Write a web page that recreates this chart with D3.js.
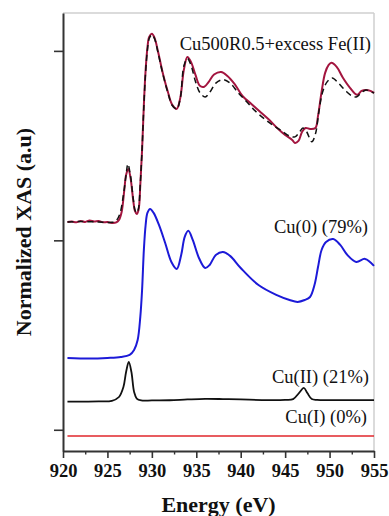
<!DOCTYPE html>
<html>
<head>
<meta charset="utf-8">
<script src="https://cdn.jsdelivr.net/npm/d3@7"></script>
<style>
  html, body { margin: 0; padding: 0; background: #fff; }
  svg { display: block; }
</style>
</head>
<body>
<svg id="chart" width="389" height="516"></svg>
<script>
// ---------- data ----------
const xTickValues = [920, 925, 930, 935, 940, 945, 950, 955];
const xMinorTicks = [922.5, 927.5, 932.5, 937.5, 942.5, 947.5, 952.5];
const yTickValues = [0, 1, 2];

// Cu(I) (0%) reference, flat
const cu1Energy = [920.5, 955];
const cu1Value  = [-0.033, -0.033];

// Cu(II) (21%) reference
const cu2Energy = [920.5, 922, 924, 925.5, 926.3, 926.8, 927.1, 927.4, 927.7, 928.0, 928.3, 928.8, 930, 932, 934, 936, 938, 940, 943, 945, 945.9, 946.6, 947.1, 947.5, 948.0, 948.6, 950, 955];
const cu2Value  = [0.149, 0.149, 0.150, 0.153, 0.173, 0.226, 0.305, 0.358, 0.305, 0.200, 0.165, 0.155, 0.155, 0.156, 0.160, 0.163, 0.162, 0.160, 0.157, 0.158, 0.162, 0.196, 0.221, 0.194, 0.162, 0.158, 0.157, 0.157];

// Cu(0) (79%) reference
const cu0Energy = [920.5, 923, 925, 926.5, 927.5, 928.0, 928.4, 928.7, 928.9, 929.1, 929.3, 929.5, 929.8, 930.2, 930.8, 931.5, 932.2, 932.8, 933.3, 933.7, 934.1, 934.6, 935.3, 936.0, 936.5, 937.2, 938.0, 938.8, 940, 942, 944, 945.5, 946.4, 947.2, 947.8, 948.3, 948.7, 949.1, 949.6, 950.4, 951.2, 952, 953, 954, 955];
const cu0Value  = [0.379, 0.376, 0.379, 0.384, 0.395, 0.421, 0.474, 0.596, 0.738, 0.949, 1.081, 1.145, 1.166, 1.145, 1.081, 0.986, 0.886, 0.849, 0.923, 1.018, 1.050, 1.002, 0.907, 0.854, 0.870, 0.923, 0.939, 0.918, 0.854, 0.764, 0.712, 0.685, 0.675, 0.685, 0.701, 0.764, 0.859, 0.949, 0.991, 1.007, 0.976, 0.923, 0.886, 0.902, 0.865];

// Measured: Cu500R0.5+excess Fe(II)
const measEnergy = [920.5, 921, 921.5, 922, 922.5, 923, 923.5, 924, 924.5, 925, 925.5, 926.0, 926.3, 926.6, 926.9, 927.1, 927.35, 927.6, 927.9, 928.1, 928.3, 928.5, 928.7, 928.9, 929.1, 929.3, 929.5, 929.7, 930.0, 930.3, 930.7, 931.2, 931.8, 932.3, 932.8, 933.2, 933.6, 934.0, 934.4, 934.9, 935.4, 935.9, 936.4, 937.0, 937.8, 938.5, 939.3, 940.2, 941.2, 942.2, 943.2, 944.1, 945.0, 945.8, 946.1, 946.5, 946.9, 947.3, 947.8, 948.4, 948.7, 949.1, 949.5, 949.9, 950.2, 950.8, 951.5, 952.3, 953.1, 953.6, 954.1, 954.6, 955.0];
const measValue  = [1.097, 1.099, 1.095, 1.102, 1.097, 1.105, 1.099, 1.102, 1.095, 1.097, 1.092, 1.095, 1.108, 1.150, 1.266, 1.345, 1.377, 1.330, 1.213, 1.155, 1.139, 1.160, 1.292, 1.477, 1.715, 1.900, 2.016, 2.074, 2.090, 2.069, 1.995, 1.889, 1.784, 1.715, 1.694, 1.752, 1.900, 1.968, 1.942, 1.875, 1.816, 1.811, 1.837, 1.875, 1.889, 1.868, 1.826, 1.762, 1.720, 1.678, 1.636, 1.593, 1.556, 1.530, 1.514, 1.525, 1.572, 1.593, 1.588, 1.593, 1.657, 1.784, 1.884, 1.926, 1.937, 1.916, 1.858, 1.805, 1.768, 1.789, 1.794, 1.789, 1.778];

// Linear-combination fit (dashed)
const fitEnergy = [920.5, 922, 924, 925.5, 926.0, 926.4, 926.8, 927.1, 927.3, 927.6, 927.9, 928.1, 928.3, 928.5, 928.7, 928.9, 929.1, 929.3, 929.5, 929.7, 930.0, 930.3, 930.7, 931.2, 931.8, 932.3, 932.8, 933.2, 933.6, 934.0, 934.4, 934.9, 935.4, 936.0, 936.5, 937.2, 938.0, 938.8, 939.7, 940.7, 941.7, 942.7, 943.7, 944.7, 945.5, 946.1, 946.6, 947.0, 947.4, 948.0, 948.4, 948.8, 949.2, 949.7, 950.3, 951.0, 951.8, 952.5, 953.0, 953.6, 954.1, 954.6, 955.0];
const fitValue  = [1.097, 1.099, 1.097, 1.095, 1.105, 1.140, 1.240, 1.345, 1.403, 1.340, 1.220, 1.160, 1.145, 1.170, 1.300, 1.480, 1.710, 1.890, 2.005, 2.065, 2.085, 2.065, 1.990, 1.885, 1.780, 1.712, 1.694, 1.750, 1.920, 1.960, 1.925, 1.840, 1.780, 1.757, 1.780, 1.830, 1.848, 1.830, 1.780, 1.730, 1.680, 1.640, 1.605, 1.575, 1.550, 1.546, 1.570, 1.593, 1.575, 1.520, 1.560, 1.680, 1.780, 1.835, 1.857, 1.830, 1.790, 1.763, 1.757, 1.780, 1.794, 1.785, 1.778];

const labelMeas = "Cu500R0.5+excess Fe(II)";
const labelCu0 = "Cu(0) (79%)";
const labelCu2 = "Cu(II) (21%)";
const labelCu1 = "Cu(I) (0%)";
const xTitle = "Energy (eV)";
const yTitle = "Normalized XAS (a.u)";

// ---------- layout ----------
const svg = d3.select("#chart");
const mLeft = 63, mRight = 374, mTop = 13, mBottom = 451;

const x = d3.scaleLinear().domain([920, 955]).range([mLeft, mRight]);
const y = d3.scaleLinear().domain([-0.112, 2.2]).range([mBottom, mTop]);

svg.append("rect").attr("width", 389).attr("height", 516).attr("fill", "#fff");

// top & right frame (light gray)
svg.append("line").attr("x1", mLeft).attr("x2", mRight).attr("y1", mTop).attr("y2", mTop)
  .attr("stroke", "#cfcfcf").attr("stroke-width", 1.5);
svg.append("line").attr("x1", mRight).attr("x2", mRight).attr("y1", mTop).attr("y2", mBottom)
  .attr("stroke", "#cfcfcf").attr("stroke-width", 1.5);

const serif = "'Liberation Serif', 'Times New Roman', serif";

// x axis
const xAxis = d3.axisBottom(x).tickValues(xTickValues).tickSize(7).tickSizeOuter(0).tickPadding(6);
const gx = svg.append("g").attr("transform", `translate(0,${mBottom})`).call(xAxis);
gx.select(".domain").attr("stroke", "#333").attr("stroke-width", 2);
gx.selectAll(".tick line").attr("stroke", "#333").attr("stroke-width", 1.6);
gx.selectAll(".tick text").attr("font-family", serif).attr("font-weight", "bold")
  .attr("font-size", 18.5).attr("fill", "#111");
const gxm = svg.append("g").attr("transform", `translate(0,${mBottom})`)
  .call(d3.axisBottom(x).tickValues(xMinorTicks).tickSize(3.5).tickFormat(""));
gxm.select(".domain").remove();
gxm.selectAll(".tick line").attr("stroke", "#333").attr("stroke-width", 1.4);

// y axis
const yAxis = d3.axisLeft(y).tickValues(yTickValues).tickSize(9).tickSizeOuter(0).tickFormat("");
const gy = svg.append("g").attr("transform", `translate(${mLeft},0)`).call(yAxis);
gy.select(".domain").attr("stroke", "#333").attr("stroke-width", 2);
gy.selectAll(".tick line").attr("stroke", "#333").attr("stroke-width", 1.6);

// axis titles
svg.append("text").attr("x", (mLeft + mRight) / 2).attr("y", 512)
  .attr("text-anchor", "middle").attr("font-family", serif).attr("font-weight", "bold")
  .attr("font-size", 22).attr("fill", "#111").text(xTitle);
svg.append("text").attr("transform", `translate(31,${232}) rotate(-90)`)
  .attr("text-anchor", "middle").attr("font-family", serif).attr("font-weight", "bold")
  .attr("font-size", 22).attr("fill", "#111").text(yTitle);

// curves
const line = d3.line().x(d => x(d[0])).y(d => y(d[1])).curve(d3.curveCatmullRom.alpha(0.5));
const zipData = (e, v) => e.map((d, i) => [d, v[i]]);

const plot = svg.append("g");
plot.append("path").datum(zipData(cu1Energy, cu1Value)).attr("d", line)
  .attr("fill", "none").attr("stroke", "#e0262b").attr("stroke-width", 1.6);
plot.append("path").datum(zipData(cu2Energy, cu2Value)).attr("d", line)
  .attr("fill", "none").attr("stroke", "#111").attr("stroke-width", 1.8);
plot.append("path").datum(zipData(cu0Energy, cu0Value)).attr("d", line)
  .attr("fill", "none").attr("stroke", "#1c1ad8").attr("stroke-width", 2);
plot.append("path").datum(zipData(measEnergy, measValue)).attr("d", line)
  .attr("fill", "none").attr("stroke", "#a3153f").attr("stroke-width", 2);
plot.append("path").datum(zipData(fitEnergy, fitValue)).attr("d", line)
  .attr("fill", "none").attr("stroke", "#111").attr("stroke-width", 1.5)
  .attr("stroke-dasharray", "6,4");

// curve labels
const labels = [
  { t: labelMeas, x: 371, y: 50 },
  { t: labelCu0, x: 368, y: 233 },
  { t: labelCu2, x: 369, y: 383 },
  { t: labelCu1, x: 367, y: 423 }
];
svg.selectAll("text.lbl").data(labels).enter().append("text").attr("class", "lbl")
  .attr("x", d => d.x).attr("y", d => d.y).attr("text-anchor", "end")
  .attr("font-family", serif).attr("font-size", 18.5).attr("fill", "#111")
  .text(d => d.t);
</script>
</body>
</html>
